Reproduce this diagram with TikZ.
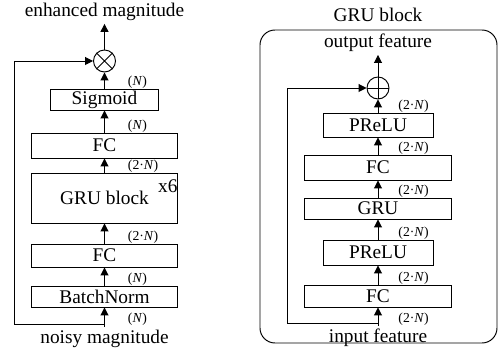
\documentclass[tikz,border=0pt]{standalone}
\usepackage{fontspec}
\setmainfont{Liberation Serif}
\usetikzlibrary{arrows.meta,calc}

\begin{document}
\begin{tikzpicture}[line width=0.55pt,>={Triangle[length=4.5pt,width=4.5pt]},
sysblock/.style={draw,rectangle,inner sep=0pt,minimum width=2.92cm,minimum height=0.46cm,font=\fontsize{11}{13}\selectfont},
summer/.style={circle,draw,inner sep=0pt,minimum size=0.44cm},
dimlabel/.style={inner sep=0pt,font=\fontsize{7.8}{9}\selectfont},
caption/.style={inner sep=1.5pt,font=\fontsize{11}{13}\selectfont}]
\useasboundingbox (0,0) rectangle (9.98,6.96);

% left network
\draw (2.09,6.72) node[caption] (outmag) {enhanced magnitude};
\draw (2.09,5.74) node[summer] (mult) {};
\draw (mult.north west) -- (mult.south east) (mult.north east) -- (mult.south west);
\draw (2.09,4.97) node[sysblock,minimum width=2.16cm,minimum height=0.42cm] (sigm) {Sigmoid};
\draw (2.09,4.05) node[sysblock,minimum height=0.5cm] (fcb) {FC};
\draw (2.09,3.0) node[sysblock,minimum height=1.0cm] (grublk) {GRU block};
\draw (2.09,1.85) node[sysblock] (fca) {FC};
\draw (2.09,1.03) node[sysblock,minimum height=0.42cm] (bnorm) {BatchNorm};
\draw (2.09,0.18) node[caption] (inmag) {noisy magnitude};
\node[caption,inner sep=0pt,anchor=north east] (rep) at ($(grublk.north east)+(0,-0.14)$) {x6};

\draw[->] (inmag) -- (bnorm);
\draw[->] (bnorm) -- (fca);
\draw[->] (fca) -- (grublk);
\draw[->] (grublk) -- (fcb);
\draw[->] (fcb) -- (sigm);
\draw[->] (sigm) -- (mult);
\draw[->] (mult) -- (outmag);
\coordinate (tapl) at (2.09,0.48);
\coordinate (fbl) at (0.28,0.48);
\draw[->] (tapl) -- (fbl) |- (mult.west);

\node[dimlabel,anchor=south west] (nsig) at ($(sigm.north)+(0.46,0.0)$) {(\textit{N})};
\node[dimlabel,anchor=south west] (nfcb) at ($(fcb.north)+(0.46,0.0)$) {(\textit{N})};
\node[dimlabel,anchor=south west] (ngru) at ($(grublk.north)+(0.46,0.0)$) {(2·\textit{N})};
\node[dimlabel,anchor=south west] (nfca) at ($(fca.north)+(0.46,0.0)$) {(2·\textit{N})};
\node[dimlabel,anchor=south west] (nbn) at ($(bnorm.north)+(0.46,0.0)$) {(\textit{N})};
\node[dimlabel,anchor=north west] (nin) at ($(bnorm.south)+(0.46,-0.1)$) {(\textit{N})};

% right: inside of one GRU block
\draw (7.56,6.66) node[caption] (blktitle) {GRU block};
\node[draw,rounded corners=0.3cm,inner sep=0pt,minimum width=4.74cm,minimum height=6.26cm] (frame) at (7.57,3.23) {};
\draw (7.56,6.1) node[caption] (outfeat) {output feature};
\draw (7.56,5.2) node[summer] (add) {};
\draw (add.north) -- (add.south) (add.west) -- (add.east);
\draw (7.56,4.46) node[sysblock,minimum width=2.2cm,minimum height=0.48cm] (prelub) {PReLU};
\draw (7.56,3.61) node[sysblock,minimum width=2.94cm,minimum height=0.5cm] (fcd) {FC};
\draw (7.56,2.79) node[sysblock,minimum width=2.94cm,minimum height=0.42cm] (gru) {GRU};
\draw (7.56,1.91) node[sysblock,minimum width=2.2cm,minimum height=0.5cm] (prelua) {PReLU};
\draw (7.56,1.04) node[sysblock,minimum width=2.94cm,minimum height=0.44cm] (fcc) {FC};
\draw (7.56,0.2) node[caption] (infeat) {input feature};

\draw[->] (infeat) -- (fcc);
\draw[->] (fcc) -- (prelua);
\draw[->] (prelua) -- (gru);
\draw[->] (gru) -- (fcd);
\draw[->] (fcd) -- (prelub);
\draw[->] (prelub) -- (add);
\draw[->] (add) -- (outfeat);
\coordinate (tapr) at (7.56,0.5);
\coordinate (fbr) at (5.74,0.5);
\draw[->] (tapr) -- (fbr) |- (add.west);

\node[dimlabel,anchor=south west] (dprb) at ($(prelub.north)+(0.4,0.0)$) {(2·\textit{N})};
\node[dimlabel,anchor=south west] (dfcd) at ($(fcd.north)+(0.4,0.0)$) {(2·\textit{N})};
\node[dimlabel,anchor=south west] (dgru) at ($(gru.north)+(0.4,0.0)$) {(2·\textit{N})};
\node[dimlabel,anchor=south west] (dpra) at ($(prelua.north)+(0.4,0.0)$) {(2·\textit{N})};
\node[dimlabel,anchor=south west] (dfcc) at ($(fcc.north)+(0.4,0.0)$) {(2·\textit{N})};
\node[dimlabel,anchor=north west] (din) at ($(fcc.south)+(0.4,-0.1)$) {(2·\textit{N})};

\end{tikzpicture}
\end{document}
